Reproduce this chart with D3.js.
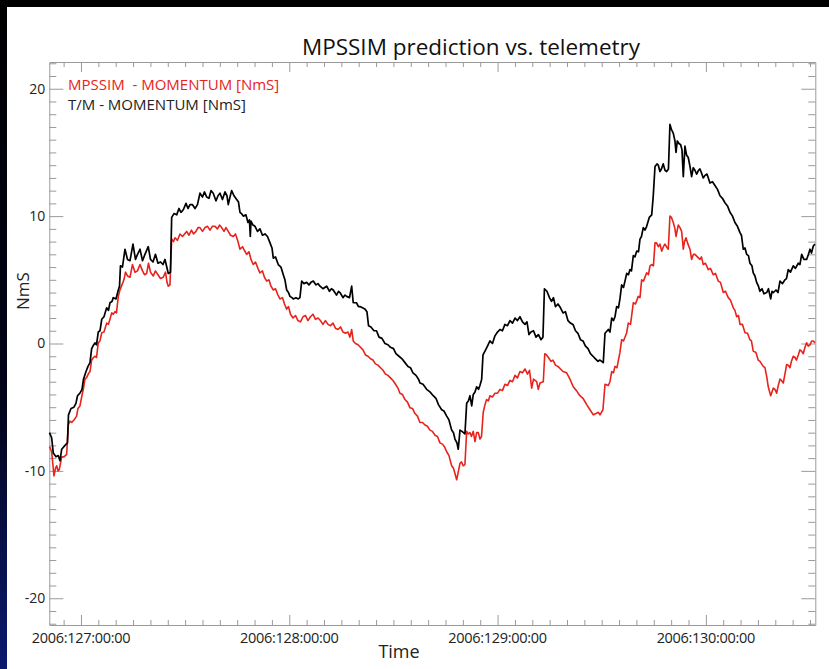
<!DOCTYPE html>
<html>
<head>
<meta charset="utf-8">
<script src="https://cdn.jsdelivr.net/npm/d3@7"></script>
<style>
html,body{margin:0;padding:0;background:#000;}
svg{display:block;}
text{font-family:"Open Sans","Noto Sans",sans-serif;}
</style>
</head>
<body>
<svg id="chart" width="829" height="669"></svg>
<script>
// ---- data (hours since 2006:127:00:00) ----
const title = "MPSSIM prediction vs. telemetry";
const seriesNames = ["MPSSIM  - MOMENTUM [NmS]", "T/M - MOMENTUM [NmS]"];
const dayTickHours = [0, 24, 48, 72];
const dayTickLabels = ["2006:127:00:00", "2006:128:00:00", "2006:129:00:00", "2006:130:00:00"];
const yTickValues = [-20, -10, 0, 10, 20];

const tmTime = [-3.63,-3.38,-3.19,-2.88,-2.62,-2.42,-2.22,-1.84,-1.56,-1.44,-1.15,-0.81,-0.58,-0.40,-0.12,0.12,0.29,0.58,0.81,1.04,1.23,1.38,1.61,1.79,1.99,2.19,2.39,2.65,2.96,3.17,3.34,3.57,3.72,4.03,4.30,4.44,4.55,4.78,5.07,5.36,5.65,5.99,6.28,6.45,6.80,7.09,7.37,7.75,8.01,8.30,8.58,8.87,9.16,9.45,9.68,10.06,10.31,10.45,10.72,11.03,11.29,11.52,11.79,12.10,12.33,12.56,12.85,13.14,13.42,13.71,14.00,14.23,14.48,14.75,14.98,15.24,15.55,15.79,16.02,16.30,16.59,16.82,16.97,17.17,17.36,17.63,17.94,18.15,18.32,18.49,18.70,19.01,19.24,19.41,19.51,19.59,19.82,20.05,20.34,20.62,20.91,21.20,21.49,21.78,22.01,22.16,22.41,22.73,23.04,23.31,23.50,23.70,23.91,24.08,24.31,24.46,24.77,25.04,25.23,25.43,25.69,26.01,26.27,26.50,26.77,27.08,27.31,27.54,27.88,28.31,28.63,28.86,29.07,29.44,29.67,29.84,30.19,30.42,30.61,30.94,31.19,31.37,31.74,31.97,32.15,32.43,32.72,32.95,33.13,33.41,33.76,34.05,34.34,34.68,35.03,35.37,35.66,36.01,36.29,36.64,36.99,37.33,37.68,37.96,38.25,38.60,38.89,39.06,39.41,39.83,40.21,40.59,40.90,41.19,41.56,41.82,42.14,42.40,42.71,42.92,43.09,43.32,43.47,43.67,43.90,44.24,44.44,44.65,44.82,45.02,45.20,45.40,45.59,45.80,45.97,46.17,46.32,46.55,46.84,47.12,47.41,47.70,47.99,48.28,48.56,48.85,49.14,49.43,49.72,50.01,50.29,50.58,50.87,51.16,51.39,51.62,51.85,52.14,52.43,52.71,53.00,53.23,53.40,53.69,53.98,54.21,54.44,54.67,54.96,55.25,55.54,55.82,56.11,56.40,56.69,56.98,57.26,57.55,57.84,58.13,58.42,58.70,58.99,59.28,59.57,59.80,60.18,60.38,60.76,60.95,61.15,61.35,61.53,61.72,61.93,62.10,62.30,62.51,62.68,62.88,63.08,63.26,63.43,63.64,63.83,64.03,64.24,64.41,64.58,64.79,64.98,65.18,65.48,65.76,65.94,66.14,66.37,66.52,66.71,66.88,67.09,67.29,67.48,67.69,67.86,68.04,68.25,68.44,68.56,68.71,68.90,69.10,69.25,69.40,69.59,69.77,69.97,70.17,70.36,70.55,70.74,70.94,71.15,71.32,71.49,71.70,71.90,72.13,72.47,72.76,73.05,73.34,73.63,73.91,74.20,74.49,74.78,75.07,75.35,75.64,75.93,76.10,76.31,76.51,76.70,76.91,77.08,77.31,77.46,77.66,77.85,78.06,78.23,78.47,78.70,79.01,79.21,79.47,79.62,79.77,80.08,80.31,80.54,80.83,81.11,81.29,81.49,81.75,82.07,82.32,82.65,82.84,83.04,83.30,83.61,83.82,84.00,84.17,84.38,84.57];
const tmMomentum = [-7.0,-7.4,-8.6,-8.9,-8.8,-9.2,-8.3,-8.0,-7.8,-5.6,-5.1,-5.0,-4.7,-4.1,-3.9,-3.6,-2.8,-2.2,-1.8,-1.5,-0.4,-0.2,0.05,-0.1,0.9,1.0,1.9,2.1,2.8,2.6,3.2,3.3,3.6,3.5,4.2,4.5,6.1,6.0,7.4,6.6,6.5,7.8,6.6,6.9,7.4,6.5,7.0,7.6,6.6,6.4,7.0,6.3,6.4,6.2,6.6,5.5,5.6,9.9,10.2,10.1,10.6,10.3,10.5,11.0,10.6,10.9,10.9,10.6,10.9,11.8,11.5,11.9,11.5,11.4,12.0,11.8,11.2,11.6,11.8,11.3,11.9,11.6,10.9,11.5,12.0,11.6,11.3,11.1,10.3,10.2,10.0,10.1,9.5,9.7,8.4,9.6,9.3,9.2,8.8,9.0,8.5,8.6,8.4,7.9,7.5,6.7,6.8,6.2,6.0,5.4,5.0,4.2,4.0,3.7,3.6,3.5,3.6,3.5,3.6,4.9,4.7,4.8,4.6,4.8,4.9,4.6,4.7,4.5,4.3,4.5,4.1,4.3,4.2,3.8,4.1,4.0,3.6,3.8,3.7,3.6,4.5,3.2,3.2,2.9,2.9,2.8,2.7,2.5,1.4,1.3,1.0,1.0,0.5,0.4,0.0,-0.1,-0.3,-0.4,-0.8,-1.0,-1.2,-1.5,-1.8,-1.9,-2.3,-2.5,-2.8,-3.1,-3.2,-3.6,-3.8,-4.1,-4.3,-4.8,-5.2,-5.3,-5.7,-6.0,-6.8,-7.0,-7.5,-7.8,-8.3,-6.8,-6.9,-7.1,-4.7,-4.5,-4.1,-4.9,-4.0,-3.8,-3.4,-3.6,-3.3,-2.8,-0.9,-0.6,-0.2,0.2,0.0,0.6,0.9,1.1,1.0,1.5,1.4,1.8,1.6,2.0,1.8,2.1,1.7,1.5,1.7,0.7,0.9,1.0,0.5,0.7,0.3,0.5,4.3,4.1,3.6,3.3,3.6,2.9,3.1,2.8,2.4,2.5,1.8,1.6,1.5,1.0,0.8,0.3,0.2,-0.2,-0.4,-0.8,-1.0,-1.2,-1.4,-1.3,-1.5,0.8,1.1,0.9,2.0,1.8,2.1,2.9,2.8,3.5,4.6,4.4,4.9,5.5,5.4,5.8,5.7,6.9,6.8,7.25,7.2,8.2,8.4,9.1,8.9,9.2,9.9,10.1,11.6,13.9,14.1,14.0,13.5,13.7,14.1,13.6,13.5,13.7,17.2,16.8,16.5,15.9,15.0,15.9,15.7,15.6,15.2,13.1,15.5,14.8,14.6,13.9,13.1,13.8,13.6,13.3,13.6,13.7,13.4,13.0,13.2,13.3,12.6,12.7,12.4,12.1,11.6,11.4,11.05,10.8,10.3,10.0,9.5,9.2,8.7,8.5,7.4,7.5,7.0,6.9,6.3,6.1,5.55,5.3,4.8,4.5,4.1,4.3,3.9,4.0,4.3,3.5,4.1,4.0,4.2,4.0,4.9,4.7,5.0,5.1,5.8,5.6,6.1,5.9,6.3,6.2,7.0,6.6,6.6,7.0,7.4,7.1,7.65,7.8];

const simTime = [-3.63,-3.38,-3.11,-2.94,-2.80,-2.65,-2.50,-2.22,-1.96,-1.65,-1.46,-1.27,-1.07,-0.81,-0.50,-0.35,-0.12,0.08,0.29,0.46,0.63,0.84,1.04,1.23,1.44,1.61,1.79,1.99,2.19,2.39,2.65,2.96,3.17,3.54,3.72,3.92,4.09,4.30,4.49,4.72,4.95,5.13,5.36,5.65,5.93,6.22,6.51,6.80,7.09,7.32,7.57,7.78,8.01,8.33,8.58,8.87,9.16,9.48,9.74,9.91,10.06,10.25,10.45,10.66,10.83,11.12,11.41,11.69,11.93,12.18,12.44,12.73,12.96,13.25,13.48,13.71,14.00,14.29,14.58,14.86,15.15,15.44,15.73,15.96,16.21,16.48,16.71,16.97,17.23,17.55,17.80,18.09,18.32,18.61,18.84,19.09,19.36,19.59,19.85,20.11,20.39,20.62,20.91,21.14,21.40,21.66,21.89,22.16,22.41,22.70,22.93,23.22,23.45,23.70,23.91,24.14,24.43,24.71,25.00,25.29,25.58,25.87,26.15,26.44,26.73,27.02,27.31,27.59,27.88,28.17,28.46,28.75,29.04,29.32,29.61,29.90,30.19,30.48,30.76,30.99,31.19,31.37,31.63,31.92,32.20,32.49,32.78,33.07,33.36,33.64,33.93,34.22,34.51,34.80,35.08,35.37,35.66,35.95,36.24,36.52,36.75,37.04,37.33,37.62,37.91,38.20,38.48,38.77,39.06,39.35,39.64,39.92,40.21,40.50,40.79,41.08,41.36,41.65,41.88,42.14,42.40,42.71,42.92,43.09,43.29,43.50,43.67,43.84,44.05,44.24,44.44,44.65,44.82,44.99,45.20,45.40,45.59,45.78,45.97,46.15,46.35,46.55,46.74,46.95,47.12,47.41,47.70,47.99,48.28,48.56,48.85,49.14,49.43,49.72,50.01,50.29,50.58,50.87,51.16,51.45,51.68,51.93,52.14,52.51,52.69,52.89,53.27,53.44,53.63,53.86,54.15,54.38,54.67,54.96,55.25,55.54,55.96,56.34,56.72,57.09,57.49,57.84,58.27,58.65,59.03,59.34,59.61,59.80,60.14,60.38,60.76,60.95,61.15,61.35,61.53,61.76,62.10,62.30,62.51,62.88,63.06,63.32,63.64,63.89,64.21,64.41,64.60,64.81,65.18,65.39,65.56,65.79,65.96,66.14,66.31,66.52,66.71,66.91,67.11,67.29,67.46,67.67,67.86,68.04,68.25,68.44,68.56,68.82,69.02,69.21,69.40,69.54,69.71,69.94,70.17,70.36,70.57,70.74,71.03,71.32,71.49,71.70,71.95,72.28,72.53,72.85,73.11,73.43,73.68,74.01,74.26,74.58,74.84,75.16,75.35,75.55,75.76,75.93,76.22,76.51,76.80,77.08,77.25,77.46,77.77,78.03,78.23,78.61,78.81,79.01,79.19,79.47,79.62,79.77,79.96,80.16,80.31,80.54,80.71,80.92,81.11,81.31,81.49,81.69,81.86,82.07,82.27,82.44,82.65,82.84,83.02,83.22,83.42,83.61,83.80,84.00,84.19,84.38,84.57];
const simMomentum = [-8.1,-8.5,-10.4,-9.8,-9.6,-10.0,-9.9,-8.9,-8.9,-8.7,-6.4,-6.1,-6.2,-6.0,-5.7,-5.1,-4.9,-4.2,-3.5,-2.8,-2.7,-2.4,-2.2,-1.3,-1.1,-1.0,-1.1,0.05,0.2,0.85,0.9,1.6,1.5,2.4,2.3,2.5,2.4,3.7,4.2,4.6,5.0,5.6,5.3,5.2,6.2,5.6,5.7,6.2,5.7,5.4,5.5,6.3,5.6,5.3,5.7,5.4,5.1,5.2,5.6,4.8,4.5,4.6,8.2,8.0,8.3,8.1,8.6,8.4,8.6,8.8,8.5,8.9,8.6,8.8,9.1,9.1,8.8,9.1,9.2,8.9,9.2,9.2,9.0,9.3,9.1,8.8,9.1,8.8,8.5,8.4,8.6,8.0,7.4,7.6,7.3,7.0,7.2,6.6,6.2,6.4,5.9,5.55,5.7,5.2,4.9,5.0,4.5,4.2,4.3,3.8,3.5,3.6,3.1,2.7,2.9,2.3,2.0,2.2,1.8,1.7,2.1,2.2,1.8,2.1,2.3,1.9,2.0,1.8,1.5,1.8,1.5,1.4,1.6,1.2,1.1,1.3,0.9,0.8,0.9,0.5,1.1,0.2,0.0,-0.1,-0.3,-0.5,-0.9,-1.0,-1.2,-1.3,-1.6,-1.7,-1.9,-2.1,-2.4,-2.5,-2.7,-2.9,-3.2,-3.5,-3.9,-4.0,-4.4,-4.6,-5.05,-5.1,-5.5,-5.7,-6.2,-6.2,-6.4,-6.5,-6.8,-6.9,-7.2,-7.3,-7.8,-7.9,-8.1,-8.5,-8.8,-9.6,-9.8,-10.2,-10.7,-10.0,-9.4,-9.3,-9.6,-9.5,-6.9,-7.1,-7.0,-7.3,-6.9,-7.7,-7.0,-7.0,-7.5,-7.3,-5.4,-4.8,-4.4,-4.5,-4.1,-4.2,-3.9,-3.9,-3.6,-3.7,-3.2,-3.3,-2.9,-3.0,-2.5,-2.7,-2.2,-2.3,-2.0,-2.4,-2.1,-3.5,-2.8,-3.0,-3.6,-3.1,-3.0,-0.8,-0.9,-1.1,-1.4,-1.3,-1.7,-1.8,-2.0,-2.2,-2.3,-2.8,-3.4,-3.7,-4.1,-4.3,-4.8,-5.2,-5.6,-5.5,-5.4,-5.6,-5.2,-3.2,-3.3,-3.0,-2.2,-2.3,-1.8,-1.9,-0.7,0.3,0.2,0.85,1.6,1.5,3.2,3.1,3.7,3.6,5.0,4.9,5.55,5.4,6.1,6.2,6.1,7.9,7.9,7.6,7.8,7.25,7.6,7.8,7.6,7.4,10.0,9.9,9.5,9.0,8.4,9.3,9.1,8.8,7.4,8.0,8.3,7.8,7.4,6.6,7.0,7.0,6.8,6.6,6.8,6.2,6.3,5.8,5.9,5.4,5.5,4.9,4.8,4.0,4.1,3.6,3.4,2.8,2.6,2.1,2.2,1.5,1.5,0.85,0.8,0.3,0.2,-0.6,-0.7,-1.3,-1.4,-1.8,-1.9,-2.6,-3.4,-4.1,-3.8,-3.5,-3.6,-3.9,-3.4,-2.8,-2.9,-3.1,-2.4,-1.65,-1.7,-1.9,-1.4,-1.0,-1.1,-1.3,-0.9,-0.5,-0.6,-0.8,-0.3,0.05,-0.2,-0.1,0.2,0.2,0.05];

// ---- layout ----
const W = 829, H = 669;
const plot = {left: 49.3, right: 815.3, top: 62, bottom: 625};
const svg = d3.select("#chart");

const defs = svg.append("defs");
const grad = defs.append("linearGradient").attr("id","edge").attr("x1",0).attr("y1",0).attr("x2",0).attr("y2",1);
grad.append("stop").attr("offset","0%").attr("stop-color","#000");
grad.append("stop").attr("offset","60%").attr("stop-color","#02041a");
grad.append("stop").attr("offset","100%").attr("stop-color","#0b1a6e");
svg.append("rect").attr("x",0).attr("y",0).attr("width",W).attr("height",H).attr("fill","#000");
svg.append("rect").attr("x",0).attr("y",0).attr("width",7).attr("height",H).attr("fill","url(#edge)");
svg.append("rect").attr("x",7).attr("y",7).attr("width",W-7).attr("height",H-7).attr("fill","#fff");

const x = d3.scaleLinear().domain([-3.65, 84.61]).range([plot.left, plot.right]);
const y = d3.scaleLinear().domain([-22.1, 22.1]).range([plot.bottom, plot.top]);

const axisColor = "#9a9a9a";
const labelColor = "#222";

// minor tick value sets
const hourMinor = d3.range(-2, 85, 2).filter(h => h % 24 !== 0);
const yMinor = d3.range(-22, 23, 1).filter(v => v % 10 !== 0);

function styleAxis(g){
  g.select(".domain").attr("stroke", axisColor).attr("stroke-width",1);
  g.selectAll(".tick line").attr("stroke", axisColor).attr("stroke-width",1);
}

// bottom axis
const gB = svg.append("g").attr("transform",`translate(0,${plot.bottom})`);
gB.call(d3.axisBottom(x).tickValues(dayTickHours).tickSizeInner(-10).tickSizeOuter(0).tickFormat(""));
gB.append("g").call(d3.axisBottom(x).tickValues(hourMinor).tickSizeInner(-5).tickSizeOuter(0).tickFormat("")).select(".domain").remove();
styleAxis(gB);
// top axis
const gT = svg.append("g").attr("transform",`translate(0,${plot.top})`);
gT.call(d3.axisTop(x).tickValues(dayTickHours).tickSizeInner(-10).tickSizeOuter(0).tickFormat(""));
gT.append("g").call(d3.axisTop(x).tickValues(hourMinor).tickSizeInner(-5).tickSizeOuter(0).tickFormat("")).select(".domain").remove();
styleAxis(gT);
// left axis
const gL = svg.append("g").attr("transform",`translate(${plot.left},0)`);
gL.call(d3.axisLeft(y).tickValues(yTickValues).tickSizeInner(-14).tickSizeOuter(0).tickFormat(""));
gL.append("g").call(d3.axisLeft(y).tickValues(yMinor).tickSizeInner(-7).tickSizeOuter(0).tickFormat("")).select(".domain").remove();
styleAxis(gL);
// right axis
const gR = svg.append("g").attr("transform",`translate(${plot.right},0)`);
gR.call(d3.axisRight(y).tickValues(yTickValues).tickSizeInner(-14).tickSizeOuter(0).tickFormat(""));
gR.append("g").call(d3.axisRight(y).tickValues(yMinor).tickSizeInner(-7).tickSizeOuter(0).tickFormat("")).select(".domain").remove();
styleAxis(gR);

// y tick labels
svg.append("g").selectAll("text").data(yTickValues).join("text")
  .attr("x", plot.left - 4).attr("y", d => y(d)).attr("dy","0.35em")
  .attr("text-anchor","end").attr("font-size",14).attr("fill",labelColor)
  .text(d => d);
// x tick labels
svg.append("g").selectAll("text").data(dayTickHours).join("text")
  .attr("x", d => x(d)).attr("y", 643)
  .attr("text-anchor","middle").attr("font-size",14.5).attr("fill",labelColor)
  .attr("letter-spacing", -0.3)
  .text((d,i) => dayTickLabels[i]);

// axis titles
svg.append("text").attr("x", 399).attr("y", 658).attr("text-anchor","middle")
  .attr("font-size",18).attr("fill",labelColor).text("Time");
svg.append("text").attr("transform","translate(29,291) rotate(-90)").attr("text-anchor","middle")
  .attr("font-size",17).attr("fill",labelColor).text("NmS");
// title
svg.append("text").attr("x", 471).attr("y", 55).attr("text-anchor","middle")
  .attr("font-size",22.5).attr("fill","#111").text(title);

// lines
const simData = simTime.map((t,i) => ({t, v: simMomentum[i]}));
const tmData = tmTime.map((t,i) => ({t, v: tmMomentum[i]}));
const line = d3.line().x(d => x(d.t)).y(d => y(d.v));
svg.append("path").datum(simData).attr("d", line).attr("fill","none")
  .attr("stroke","#e8231c").attr("stroke-width",1.6).attr("stroke-linejoin","round");
svg.append("path").datum(tmData).attr("d", line).attr("fill","none")
  .attr("stroke","#000").attr("stroke-width",1.7).attr("stroke-linejoin","round");

// legend
const legendColors = ["#e8231c", "#222"];
svg.append("g").selectAll("text").data(seriesNames).join("text")
  .attr("x", 68).attr("y", (d,i) => 89.5 + i*20)
  .attr("font-size",15).attr("fill",(d,i) => legendColors[i])
  .attr("xml:space","preserve").style("white-space","pre")
  .text(d => d);
</script>
</body>
</html>
